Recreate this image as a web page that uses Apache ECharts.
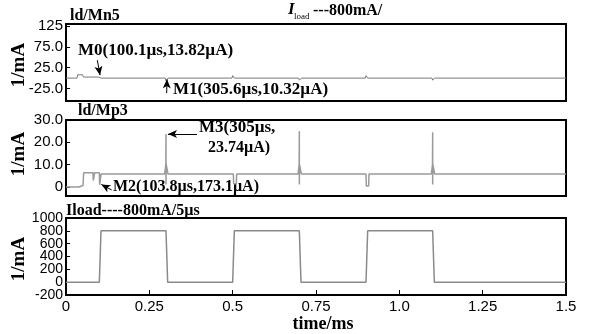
<!DOCTYPE html>
<html>
<head>
<meta charset="utf-8">
<script src="https://cdn.jsdelivr.net/npm/echarts@6/dist/echarts.min.js"></script>
<style>html,body{margin:0;padding:0;background:#fff}#c{width:590px;height:334px}</style>
</head>
<body>
<div id="c"></div>
<script>
// ---- data ----
const timeTicks = [0, 0.25, 0.5, 0.75, 1.0, 1.25, 1.5];
const timeLabels = ['0', '0.25', '0.5', '0.75', '1.0', '1.25', '1.5'];

const mn5Ticks = [-25, 25, 75, 125];
const mn5Labels = ['-25.0', '25.0', '75.0', '125'];
const mp3Ticks = [0, 10, 20, 30];
const mp3Labels = ['0', '10.0', '20.0', '30.0'];
const iloadTicksA = [-200, 200, 600, 1000];
const iloadLabelsA = ['-200', '200', '600', '1000'];
const iloadTicksB = [0, 400, 800];
const iloadLabelsB = ['0', '400', '800'];

const mn5Time = [0, 0.033, 0.035, 0.05, 0.052, 0.097, 0.1, 0.102, 0.105, 0.298, 0.3, 0.303, 0.306, 0.498, 0.5, 0.502, 0.505, 0.698, 0.7, 0.703, 0.706, 0.898, 0.9, 0.902, 0.905, 1.098, 1.1, 1.103, 1.106, 1.5];
const mn5Val  = [0, 0, 8, 8, 2.5, 2.5, 7, 1, 0, 0, -7, -3, 0, 0, 6, 3, 0, 0, -5, -2, 0, 0, 6, 3, 0, 0, -5, -2, 0, 0];

const mp3Time = [0, 0.039, 0.04, 0.051, 0.053, 0.081, 0.082, 0.085, 0.086, 0.1, 0.101, 0.104, 0.105,
  0.296, 0.2995, 0.3, 0.3, 0.3005, 0.302, 0.306,
  0.502, 0.503, 0.511, 0.512,
  0.696, 0.6995, 0.7, 0.7, 0.7005, 0.702, 0.706,
  0.9, 0.901, 0.908, 0.909,
  1.096, 1.0995, 1.1, 1.1, 1.1005, 1.102, 1.106, 1.5];
const mp3Val  = [0, 0, 0.7, 0.7, 6.4, 6.4, 3, 3, 6.4, 6.4, 1, 1, 5.8,
  5.8, 10, 23.7, 1.2, 10, 9, 5.8,
  5.8, 1.5, 1.5, 5.8,
  5.8, 10, 25, 1.2, 10, 9, 5.8,
  5.8, 0.5, 0.5, 5.8,
  5.8, 10, 24.5, 1.2, 10, 9, 5.8, 5.8];

const iloadTime = [0, 0.1, 0.105, 0.3, 0.305, 0.5, 0.505, 0.7, 0.705, 0.9, 0.905, 1.1, 1.105, 1.5];
const iloadVal  = [0, 0, 800, 800, 0, 0, 800, 800, 0, 0, 800, 800, 0, 0];

// annotation arrows (data coordinates): [x1,y1,x2,y2]
const m0Arrow = [0.094, 43, 0.102, 7];
const m1Arrow = [0.302, -36, 0.303, -3];
const m3Arrow = [0.393, 23.7, 0.306, 23.7];
const m2Arrow = [0.137, -1.3, 0.106, 1.2];

// ---- build ----
const pairs = (t, v) => t.map((x, i) => [x, v[i]]);
const serif = '"Liberation Serif","Times New Roman",serif';
const sans = '"Liberation Sans",Arial,sans-serif';

function arrowLine(a) {
  return {
    silent: true, animation: false,
    symbol: ['none', 'arrow'], symbolSize: [6, 9],
    label: {show: false},
    lineStyle: {color: '#000', width: 1, type: 'solid'},
    emphasis: {disabled: true},
    data: [[{coord: [a[0], a[1]]}, {coord: [a[2], a[3]]}]]
  };
}

function yAx(idx, min, max, ticks, labels, fs) {
  return {
    type: 'value', gridIndex: idx, min: min, max: max, position: 'left',
    axisLine: {show: false, onZero: false},
    axisTick: {show: true, inside: true, length: 4, customValues: ticks, lineStyle: {color: '#000'}},
    axisLabel: {show: true, customValues: ticks, margin: 3, color: '#000', fontFamily: sans, fontSize: fs,
      hideOverlap: false, showMinLabel: true, showMaxLabel: true,
      formatter: v => labels[ticks.indexOf(v)] ?? ''},
    splitLine: {show: false}
  };
}

function xAx(idx, showLabels) {
  const ax = {
    type: 'value', gridIndex: idx, min: 0, max: 1.5, interval: 0.25,
    axisLine: {show: false, onZero: false},
    axisTick: {show: showLabels, inside: true, length: 5, lineStyle: {color: '#000'}},
    axisLabel: {show: showLabels, margin: 4, color: '#000', fontFamily: sans, fontSize: 15,
      showMinLabel: true, showMaxLabel: true,
      formatter: v => timeLabels[timeTicks.indexOf(v)] ?? ''},
    splitLine: {show: false}
  };
  if (showLabels) {
    ax.name = 'time/ms';
    ax.nameLocation = 'middle';
    ax.nameGap = 19;
    ax.nameTextStyle = {fontFamily: serif, fontWeight: 'bold', fontSize: 18, color: '#000', padding: [0, 0, 0, 14]};
  }
  return ax;
}

const gridBase = {left: 66, width: 500, show: true, borderColor: '#000', borderWidth: 2,
  backgroundColor: 'transparent', outerBoundsMode: 'none', containLabel: false};

function txt(x, y, text, size, extra) {
  return Object.assign({
    type: 'text', x: x, y: y, silent: true,
    style: {text: text, fill: '#000', font: 'bold ' + size + 'px ' + serif, align: 'left', verticalAlign: 'middle'}
  }, extra || {});
}
function yName(y) {
  return {
    type: 'text', x: 19, y: y, rotation: Math.PI / 2, silent: true,
    style: {text: '1/mA', fill: '#000', font: 'bold 19px ' + serif, align: 'center', verticalAlign: 'middle'}
  };
}

const option = {
  backgroundColor: '#fff',
  animation: false,
  grid: [
    Object.assign({top: 24, height: 77}, gridBase),
    Object.assign({top: 120, height: 76}, gridBase),
    Object.assign({top: 218, height: 77}, gridBase)
  ],
  xAxis: [xAx(0, false), xAx(1, false), xAx(2, true)],
  yAxis: [
    yAx(0, -55, 130, mn5Ticks, mn5Labels, 15),
    yAx(1, -4, 30, mp3Ticks, mp3Labels, 15),
    yAx(2, -200, 1000, iloadTicksA, iloadLabelsA, 14),
    yAx(2, -200, 1000, iloadTicksB, iloadLabelsB, 14)
  ],
  series: [
    {type: 'line', xAxisIndex: 0, yAxisIndex: 0, data: pairs(mn5Time, mn5Val), showSymbol: false,
      lineStyle: {color: '#7a7a7a', width: 1}},
    {type: 'line', xAxisIndex: 0, yAxisIndex: 0, data: [], markLine: arrowLine(m0Arrow)},
    {type: 'line', xAxisIndex: 0, yAxisIndex: 0, data: [], markLine: arrowLine(m1Arrow)},
    {type: 'line', xAxisIndex: 1, yAxisIndex: 1, data: pairs(mp3Time, mp3Val), showSymbol: false,
      lineStyle: {color: '#9a9a9a', width: 1.5}},
    {type: 'line', xAxisIndex: 1, yAxisIndex: 1, data: [], markLine: arrowLine(m3Arrow)},
    {type: 'line', xAxisIndex: 1, yAxisIndex: 1, data: [], markLine: arrowLine(m2Arrow)},
    {type: 'line', xAxisIndex: 2, yAxisIndex: 2, data: pairs(iloadTime, iloadVal), showSymbol: false,
      lineStyle: {color: '#8a8a8a', width: 1.5}}
  ],
  graphic: [
    yName(65), yName(154), yName(259),
    txt(70, 16, 'ld/Mn5', 16),
    txt(288, 10, 'I', 17, {style: {text: 'I', fill: '#000', font: 'italic bold 17px ' + serif, align: 'left', verticalAlign: 'middle'}}),
    txt(294, 17, 'load', 9, {style: {text: 'load', fill: '#000', font: '9px ' + serif, align: 'left', verticalAlign: 'middle'}}),
    txt(313, 11, '---800mA/', 16),
    txt(78, 51, 'M0(100.1µs,13.82µA)', 17),
    txt(173, 90, 'M1(305.6µs,10.32µA)', 17),
    txt(78, 111, 'ld/Mp3', 16),
    txt(199, 128, 'M3(305µs,', 17),
    txt(208, 148, '23.74µA)', 16),
    txt(113, 187, 'M2(103.8µs,173.1µA)', 16),
    txt(66, 211, 'Iload----800mA/5µs', 16)
  ]
};

const chart = echarts.init(document.getElementById('c'), null, {renderer: 'canvas'});
chart.setOption(option);
</script>
</body>
</html>
